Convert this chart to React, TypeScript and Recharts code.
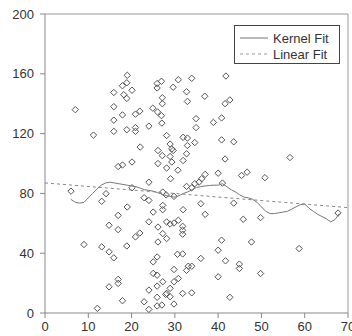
import React from 'react';
import {
  ScatterChart,
  Scatter,
  XAxis,
  YAxis,
  ReferenceLine,
} from 'recharts';

const upperPoints = [
  [7.0, 136], [11.2, 119], [15.9, 147.5], [15.9, 138], [15.9, 129], [15.9, 121.5],
  [17.9, 132.5], [17.9, 152], [19.0, 159], [18.9, 154], [18.2, 146], [18.9, 143.5],
  [20.1, 149], [18.9, 122.6], [20.9, 124], [20.9, 121.5], [20.9, 133], [21.9, 135],
  [22.0, 111], [24.0, 125], [24.9, 137], [26.0, 134.5], [25.9, 153.5], [25.9, 150.5],
  [26.9, 155], [27.1, 144], [27.1, 140], [26.9, 132], [27.0, 127], [28.1, 118.7],
  [28.9, 113], [29.6, 151], [30.8, 156], [26.1, 108.7], [27.1, 105.3], [29.6, 108.7],
  [29.3, 109.8], [28.9, 104.7], [16.9, 98], [17.9, 99], [20.1, 101], [26.1, 100],
  [28.1, 97], [33.9, 157], [41.8, 158.5], [32.7, 148], [36.9, 145], [32.9, 141.5],
  [41.6, 140], [42.7, 142.5], [34.9, 130], [34.9, 124], [38.9, 127.5], [40.8, 130.5],
  [31.9, 117.5], [32.9, 117], [32.9, 112], [34.6, 114], [40.8, 115.8], [43.6, 114.5],
  [41.6, 103], [31.9, 102], [32.7, 106.5], [56.6, 104], [29.3, 101], [30.7, 95.5],
];

const middlePoints = [
  [6.0, 81.5], [13.1, 74.7], [14.1, 79.8], [14.8, 58.7], [16.9, 65.3], [16.9, 55.8],
  [19.0, 70.9], [20.1, 83.8], [20.9, 50.9], [21.9, 53.5], [22.9, 77.1], [24.0, 87.5],
  [24.0, 75.3], [25.0, 67.5], [26.1, 57.5], [26.1, 47.5], [27.2, 72], [27.2, 69.1],
  [27.2, 80.9], [27.2, 53.1], [28.1, 49.8], [28.1, 60.9], [28.0, 79], [29.0, 89.8],
  [29.8, 78], [29.8, 60.2], [30.8, 62], [32.7, 84.7], [33.9, 83.8], [34.6, 86.5],
  [35.6, 87.6], [36.2, 89.8], [37.0, 92.7], [40.0, 93.5], [45.4, 92], [46.7, 94.2],
  [50.8, 90.5], [41.0, 86.9], [31.9, 69.1], [36.0, 73.1], [37.0, 66], [43.6, 73.5],
  [45.8, 62.7], [49.8, 63.8], [67.7, 66.9], [31.8, 58], [31.8, 55.3], [31.8, 52.7],
  [40.8, 48.7], [47.7, 47.5], [58.7, 43.1], [40.0, 42], [9.0, 45.8], [13.1, 44.2],
  [14.8, 40.9], [18.9, 44.8], [24.0, 61], [28.9, 59.5],
];

const lowerPoints = [
  [12.1, 3.1], [15.9, 36.9], [14.8, 17.5], [16.9, 22.5], [16.9, 19.8], [17.9, 8.2],
  [22.9, 7.5], [24.0, 15.3], [24.0, 2.4], [25.0, 34.2], [25.0, 26.5], [25.9, 37.5],
  [25.9, 25.3], [25.9, 18], [25.9, 10.5], [25.9, 4.7], [27.2, 20.9], [27.0, 5.3],
  [28.1, 13.1], [28.9, 16.5], [28.9, 10.9], [29.8, 29.1], [29.8, 20.9], [29.8, 6],
  [30.6, 39.3], [30.8, 23.1], [31.8, 39.5], [36.0, 36.5], [41.7, 34.9], [44.9, 32.7],
  [44.9, 29.8], [33.1, 31.3], [33.9, 31.3], [32.7, 28.5], [40.0, 24.2], [49.8, 26.4],
  [31.8, 13.1], [33.9, 13.5], [42.7, 10.5], [27.9, 12.4],
];

const kernelX = [
  6, 7, 8, 9, 10, 11, 12, 13, 14, 15, 16, 17, 18, 19, 20, 21, 22, 23, 24, 25, 26,
  27, 28, 29, 30, 31, 32, 33, 34, 35, 36, 37, 38, 39, 40, 41, 42, 43, 44, 45, 46,
  47, 48, 49, 50, 51, 52, 53, 54, 55, 56, 57, 58, 59, 60, 61, 62, 63, 64, 65, 66,
  67, 68,
];
const kernelY = [
  76, 74, 73.5, 74, 77, 80, 83, 85.5, 87, 87.5, 87, 86.5, 86, 85.5, 85, 84.5, 83.5,
  82.5, 82, 81.5, 80.5, 79.5, 78.5, 78, 77.5, 78.5, 80, 81, 82.5, 84, 84.5, 85,
  85.3, 85.5, 85.5, 86.5, 84.5, 82.5, 81, 79, 77.5, 77, 76, 74, 71, 68, 66.5, 66.5,
  67, 67.5, 68, 69.5, 71, 72.5, 73, 70, 68, 66, 64.5, 63, 61, 62.5, 66.5,
];

const linearX = [0, 70];
const linearY = [87, 70.5];

const xTicks = [0, 10, 20, 30, 40, 50, 60, 70];
const yTicks = [0, 40, 80, 120, 160, 200];

const points = [...upperPoints, ...middlePoints, ...lowerPoints].map(([x, y]) => ({ x, y }));
const kernelData = kernelX.map((x, i) => ({ x, y: kernelY[i] }));
const linearData = linearX.map((x, i) => ({ x, y: linearY[i] }));

const Diamond = (props: any) => {
  const { cx, cy } = props;
  const r = 3.2;
  return (
    <path
      d={`M${cx},${cy - r}L${cx + r},${cy}L${cx},${cy + r}L${cx - r},${cy}Z`}
      fill="none"
      stroke="#555"
      strokeWidth={1}
    />
  );
};

const NoDot = () => <g />;

const font = { fontFamily: '"Liberation Sans", Arial, sans-serif', fontSize: 13, fill: '#333' };

const App = () => {
  return (
    <div style={{ position: 'absolute', left: 0, top: 0, width: 352, height: 336 }}>
      <ScatterChart width={352} height={336} margin={{ top: 14, right: 4, bottom: 0, left: 0 }}>
        <XAxis
          type="number"
          dataKey="x"
          domain={[0, 70]}
          ticks={xTicks}
          height={23}
          tickSize={5}
          tickMargin={4}
          stroke="#888"
          tick={font}
          interval={0}
        />
        <YAxis
          type="number"
          dataKey="y"
          domain={[0, 200]}
          ticks={yTicks}
          width={45}
          tickSize={5}
          tickMargin={6}
          stroke="#888"
          tick={font}
          interval={0}
        />
        <ReferenceLine y={200} stroke="#999" />
        <ReferenceLine x={70} stroke="#999" />
        <Scatter data={points} shape={<Diamond />} isAnimationActive={false} />
        <Scatter
          data={linearData}
          line={{ stroke: '#888', strokeWidth: 1, strokeDasharray: '3 3' }}
          shape={<NoDot />}
          isAnimationActive={false}
        />
        <Scatter
          data={kernelData}
          line={{ stroke: '#777', strokeWidth: 1 }}
          shape={<NoDot />}
          isAnimationActive={false}
        />
      </ScatterChart>
      <div
        style={{
          position: 'absolute',
          left: 234,
          top: 25,
          width: 104,
          height: 37,
          border: '1px solid #444',
          background: '#fff',
          fontFamily: '"Liberation Sans", Arial, sans-serif',
          fontSize: 13,
          color: '#333',
        }}
      >
        <svg width={104} height={37} style={{ position: 'absolute', left: 0, top: 0 }}>
          <line x1={5} y1={12} x2={33} y2={12} stroke="#777" strokeWidth={1} />
          <line x1={5} y1={28} x2={33} y2={28} stroke="#999" strokeWidth={1} strokeDasharray="3 3" />
          <text x={38} y={16.5} style={font}>Kernel Fit</text>
          <text x={38} y={32.5} style={font}>Linear Fit</text>
        </svg>
      </div>
    </div>
  );
};

export default App;
